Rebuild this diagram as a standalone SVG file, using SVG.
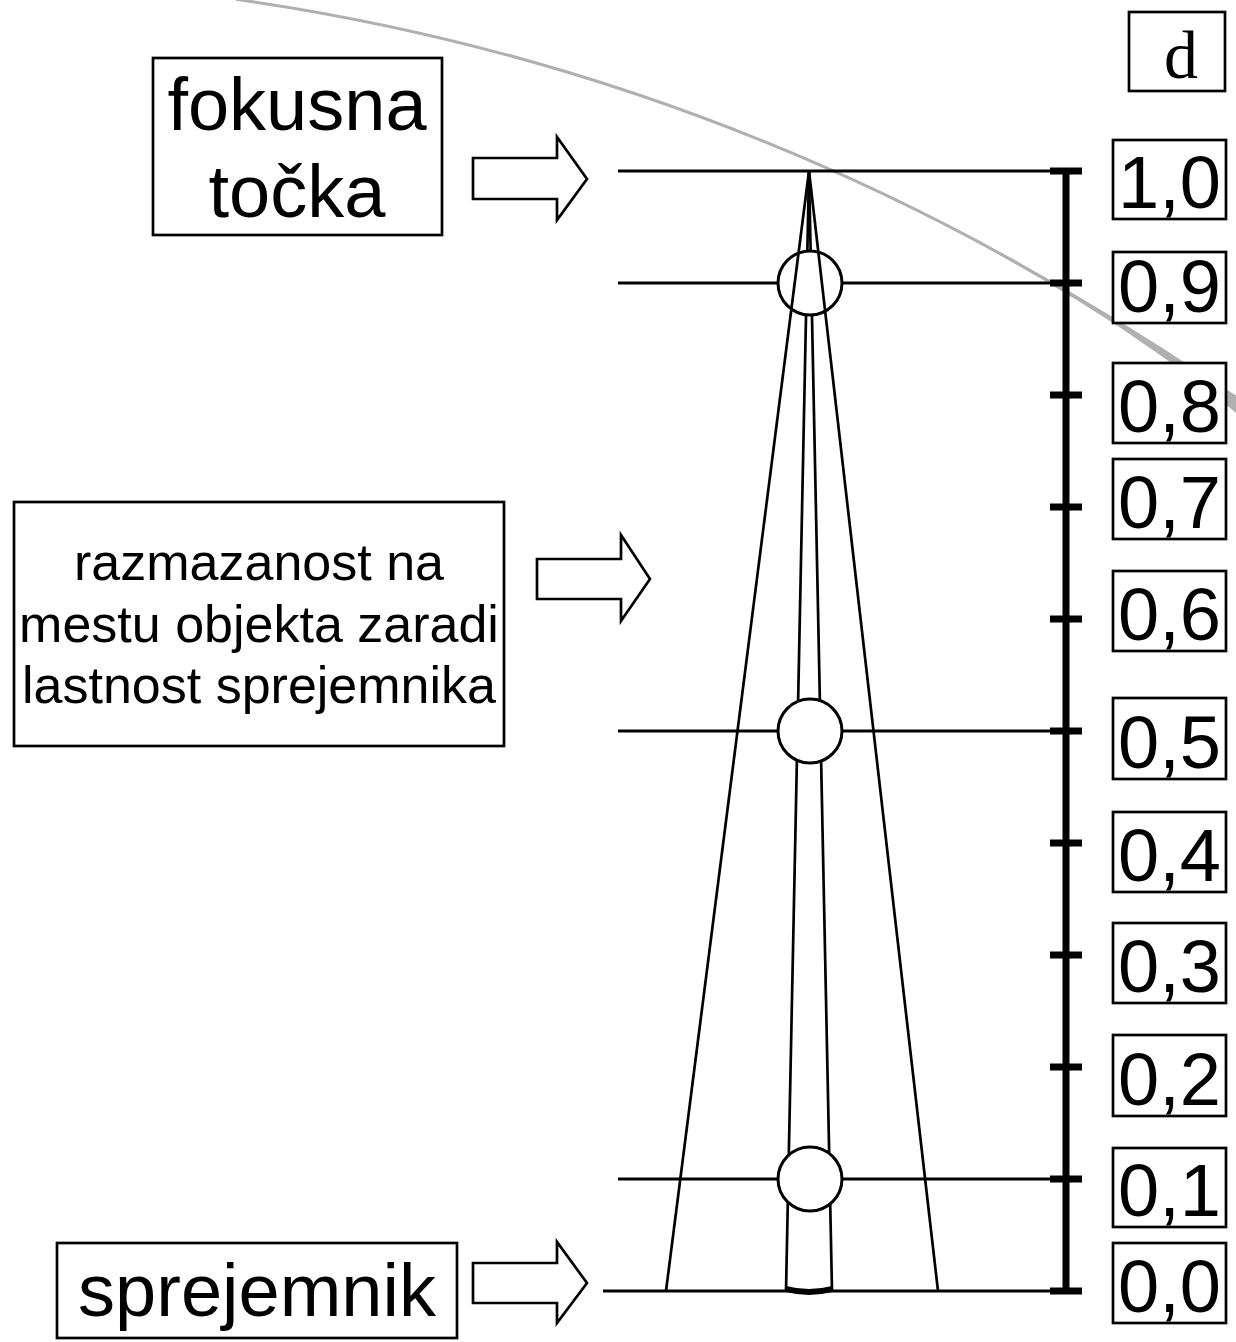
<svg xmlns="http://www.w3.org/2000/svg" width="1236" height="1342" viewBox="0 0 1236 1342">
<style>
.bg{fill:#ffffff}
.box{fill:#ffffff;stroke:#000;stroke-width:2.7}
.t{font-family:"Liberation Sans",Arial,sans-serif;fill:#000;text-anchor:middle}
.big{font-size:74px}
.mid{font-size:52px}
.serif{font-family:"Liberation Serif","Times New Roman",serif;font-size:68px;fill:#000;text-anchor:middle}
.ln{stroke:#000;stroke-width:2.8;fill:none}
.cone{stroke:#000;stroke-width:2.7;fill:none}
.circ{fill:#fff;stroke:#000;stroke-width:3}
.arrow{fill:#fff;stroke:#000;stroke-width:2.7;stroke-linejoin:miter}
.axis{stroke:#000;stroke-width:7;fill:none}
</style>
<rect class="bg" x="0" y="0" width="1236" height="1342"/>

<g id="gray-arc">
<path d="M236,-0.7 A2242.6,2242.6 0 0 1 1236,403" fill="none" stroke="#b0b0b0" stroke-width="3"/>
<path d="M1000,252.2 L1040,274.5 L1080,297.6 L1120,321.5 L1160,346.4 L1200,372.5 L1240,398 L1240,416 L1200,384 L1160,355 L1120,327.5 L1080,302.1 L1040,278 L1000,255.2 Z" fill="#b0b0b0"/>
</g>

<g id="connectors">
<line class="ln" x1="618" y1="171" x2="1066" y2="171"/>
<line class="ln" x1="618" y1="283" x2="1066" y2="283"/>
<line class="ln" x1="618" y1="731" x2="1066" y2="731"/>
<line class="ln" x1="618" y1="1179" x2="1066" y2="1179"/>
<line class="ln" x1="603" y1="1291" x2="1066" y2="1291"/>
<line class="cone" x1="809" y1="171" x2="786" y2="1291"/>
<line class="cone" x1="809" y1="171" x2="832" y2="1291"/>
<path d="M786,1286 Q809,1292 832,1286 L832,1292 Q809,1298 786,1292 Z" fill="#000"/>
</g>

<g id="circles">
<circle id="c09" class="circ" cx="810" cy="283" r="32"/>
<circle id="c05" class="circ" cx="810" cy="731" r="32"/>
<circle id="c01" class="circ" cx="810" cy="1179" r="32"/>
</g>

<g id="outer-cone">
<line class="cone" x1="809" y1="171" x2="666" y2="1291"/>
<line class="cone" x1="809" y1="171" x2="938" y2="1291"/>
</g>

<g id="axis">
<line class="axis" x1="1066" y1="171" x2="1066" y2="1291"/>
<g stroke="#000" stroke-width="7">
<line x1="1050" y1="171" x2="1082" y2="171"/>
<line x1="1050" y1="283" x2="1082" y2="283"/>
<line x1="1050" y1="395" x2="1082" y2="395"/>
<line x1="1050" y1="507" x2="1082" y2="507"/>
<line x1="1050" y1="619" x2="1082" y2="619"/>
<line x1="1050" y1="731" x2="1082" y2="731"/>
<line x1="1050" y1="843" x2="1082" y2="843"/>
<line x1="1050" y1="955" x2="1082" y2="955"/>
<line x1="1050" y1="1067" x2="1082" y2="1067"/>
<line x1="1050" y1="1179" x2="1082" y2="1179"/>
<line x1="1050" y1="1291" x2="1082" y2="1291"/>
</g>
</g>

<g id="label-d"><rect class="box" x="1129" y="12" width="96" height="79"/><text class="serif" x="1181" y="78">d</text></g>
<g id="label-10"><rect class="box" x="1113" y="140" width="113" height="79"/><text class="t big" x="1169.5" y="208">1,0</text></g>
<g id="label-09"><rect class="box" x="1113" y="252" width="113" height="71"/><text class="t big" x="1169.5" y="312">0,9</text></g>
<g id="label-08"><rect class="box" x="1113" y="363" width="113" height="80"/><text class="t big" x="1169.5" y="432">0,8</text></g>
<g id="label-07"><rect class="box" x="1113" y="459" width="113" height="80"/><text class="t big" x="1169.5" y="528">0,7</text></g>
<g id="label-06"><rect class="box" x="1113" y="571" width="113" height="80"/><text class="t big" x="1169.5" y="640">0,6</text></g>
<g id="label-05"><rect class="box" x="1113" y="698" width="113" height="81"/><text class="t big" x="1169.5" y="768">0,5</text></g>
<g id="label-04"><rect class="box" x="1113" y="812" width="113" height="80"/><text class="t big" x="1169.5" y="881">0,4</text></g>
<g id="label-03"><rect class="box" x="1113" y="923" width="113" height="80"/><text class="t big" x="1169.5" y="992">0,3</text></g>
<g id="label-02"><rect class="box" x="1113" y="1035" width="113" height="81"/><text class="t big" x="1169.5" y="1105">0,2</text></g>
<g id="label-01"><rect class="box" x="1113" y="1148" width="113" height="79"/><text class="t big" x="1169.5" y="1216">0,1</text></g>
<g id="label-00"><rect class="box" x="1113" y="1243" width="113" height="80"/><text class="t big" x="1169.5" y="1312">0,0</text></g>

<g id="fokusna-tocka">
<rect class="box" x="153" y="58" width="289" height="177"/>
<text class="t big" x="297" y="130">fokusna</text>
<text class="t big" x="297" y="217">točka</text>
</g>
<g id="razmazanost">
<rect class="box" x="14" y="502" width="490" height="244"/>
<text class="t mid" x="259" y="580">razmazanost na</text>
<text class="t mid" x="259" y="642">mestu objekta zaradi</text>
<text class="t mid" x="259" y="703">lastnost sprejemnika</text>
</g>
<g id="sprejemnik">
<rect class="box" x="57" y="1243" width="400" height="95"/>
<text class="t big" x="257" y="1316">sprejemnik</text>
</g>

<g id="arrows">
<polygon class="arrow" points="473,158 557,158 557,137 587,179 557,220 557,199 473,199"/>
<polygon class="arrow" points="537,559 621,559 621,535 650,579 621,621 621,599 537,599"/>
<polygon class="arrow" points="473,1263 557,1263 557,1242 587,1283 557,1323 557,1303 473,1303"/>
</g>
</svg>
